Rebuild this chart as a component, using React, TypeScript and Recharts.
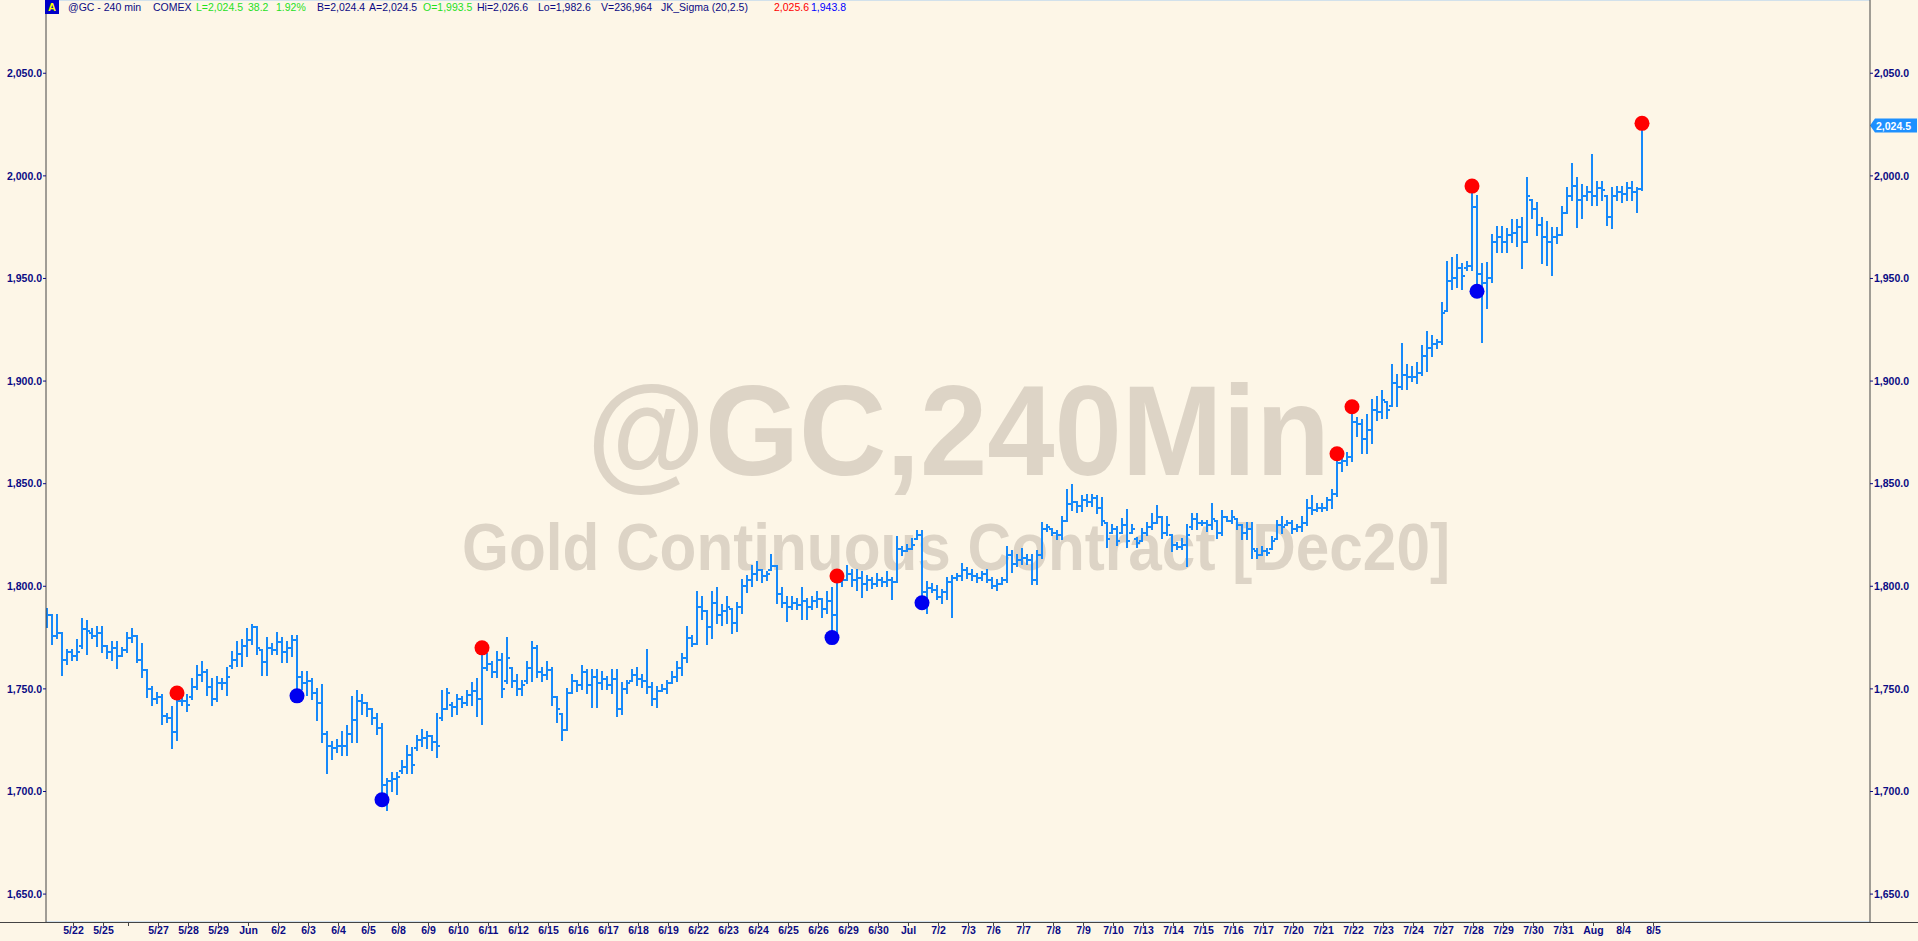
import React from "react";
import {
  ComposedChart,
  Bar,
  Scatter,
  XAxis,
  YAxis,
  CartesianGrid,
  ReferenceLine,
} from "recharts";

// 240 min bars, [open, high, low, close]
const bars: [number, number, number, number][] = [
  [1788, 1789, 1780, 1786], [1786, 1786, 1772, 1776], [1776, 1786, 1775, 1777], [1777, 1777, 1757, 1764],
  [1764, 1769, 1762, 1768], [1768, 1769, 1764, 1766], [1766, 1774, 1764, 1768], [1771, 1784, 1770, 1779],
  [1779, 1783, 1767, 1778], [1777, 1779, 1775, 1776], [1776, 1780, 1771, 1777], [1777, 1780, 1768, 1771],
  [1771, 1771, 1765, 1768], [1768, 1773, 1764, 1770], [1770, 1773, 1760, 1766], [1766, 1770, 1766, 1769],
  [1769, 1777, 1768, 1775], [1775, 1779, 1773, 1776], [1776, 1776, 1763, 1764], [1764, 1772, 1756, 1759],
  [1759, 1759, 1746, 1750], [1750, 1751, 1742, 1745], [1745, 1748, 1743, 1746], [1746, 1747, 1733, 1737],
  [1737, 1738, 1734, 1736], [1736, 1741, 1721, 1729], [1729, 1748, 1725, 1744], [1744, 1746, 1742, 1744],
  [1744, 1747, 1739, 1742], [1746, 1755, 1745, 1751], [1751, 1761, 1750, 1757], [1757, 1763, 1754, 1758],
  [1758, 1759, 1747, 1751], [1751, 1755, 1742, 1745], [1745, 1756, 1744, 1753], [1753, 1755, 1750, 1753],
  [1753, 1760, 1747, 1756], [1761, 1768, 1760, 1764], [1764, 1773, 1761, 1767], [1767, 1774, 1761, 1771],
  [1771, 1779, 1766, 1774], [1774, 1781, 1772, 1780], [1780, 1780, 1767, 1770], [1769, 1769, 1757, 1763],
  [1763, 1775, 1757, 1770], [1770, 1772, 1767, 1769], [1769, 1777, 1767, 1773], [1773, 1775, 1763, 1768],
  [1768, 1773, 1763, 1770], [1770, 1776, 1766, 1774], [1774, 1776, 1747, 1756], [1756, 1758, 1750, 1753],
  [1753, 1758, 1747, 1754], [1754, 1755, 1745, 1748], [1748, 1750, 1735, 1743], [1743, 1752, 1724, 1728],
  [1728, 1729, 1709, 1722], [1722, 1724, 1716, 1721], [1721, 1725, 1719, 1722], [1722, 1729, 1718, 1722],
  [1722, 1732, 1718, 1728], [1728, 1746, 1724, 1735], [1735, 1749, 1724, 1744], [1744, 1747, 1738, 1743],
  [1743, 1743, 1737, 1740], [1740, 1740, 1733, 1736], [1736, 1738, 1728, 1731], [1731, 1733, 1696, 1703],
  [1703, 1706, 1691, 1705], [1705, 1709, 1700, 1706], [1706, 1709, 1699, 1707], [1710, 1715, 1709, 1712],
  [1712, 1722, 1709, 1718], [1718, 1721, 1709, 1713], [1721, 1727, 1720, 1725], [1725, 1730, 1722, 1726],
  [1726, 1729, 1721, 1727], [1727, 1727, 1720, 1724], [1724, 1738, 1717, 1722], [1736, 1749, 1735, 1740],
  [1740, 1750, 1740, 1748], [1742, 1743, 1737, 1741], [1741, 1747, 1738, 1745], [1745, 1746, 1741, 1743],
  [1743, 1749, 1742, 1747], [1747, 1753, 1742, 1749], [1749, 1755, 1737, 1745], [1745, 1770, 1733, 1760],
  [1760, 1767, 1759, 1762], [1762, 1763, 1756, 1758], [1758, 1768, 1756, 1764], [1764, 1767, 1746, 1750],
  [1754, 1775, 1753, 1765], [1760, 1760, 1751, 1754], [1754, 1757, 1747, 1750], [1750, 1754, 1747, 1752],
  [1754, 1763, 1753, 1760], [1760, 1773, 1754, 1770], [1770, 1771, 1756, 1758], [1758, 1760, 1754, 1757],
  [1757, 1763, 1755, 1759], [1759, 1760, 1742, 1746], [1746, 1746, 1734, 1740], [1738, 1738, 1725, 1730],
  [1730, 1750, 1730, 1748], [1748, 1757, 1748, 1754], [1754, 1754, 1749, 1752], [1752, 1761, 1750, 1758],
  [1758, 1759, 1748, 1752], [1752, 1759, 1741, 1756], [1756, 1759, 1741, 1753], [1753, 1758, 1750, 1755],
  [1755, 1756, 1750, 1752], [1752, 1759, 1748, 1755], [1755, 1759, 1737, 1740], [1740, 1753, 1738, 1750],
  [1750, 1754, 1748, 1753], [1754, 1759, 1754, 1757], [1757, 1760, 1752, 1755], [1755, 1757, 1751, 1754],
  [1754, 1769, 1748, 1751], [1751, 1753, 1742, 1745], [1745, 1751, 1741, 1749], [1749, 1752, 1749, 1750],
  [1750, 1754, 1748, 1753], [1753, 1758, 1753, 1756], [1756, 1763, 1754, 1760], [1760, 1767, 1757, 1765],
  [1765, 1780, 1763, 1775], [1775, 1776, 1771, 1772], [1772, 1797, 1772, 1790], [1790, 1795, 1784, 1788],
  [1788, 1788, 1772, 1780], [1780, 1797, 1775, 1792], [1792, 1799, 1782, 1786], [1786, 1791, 1781, 1788],
  [1788, 1795, 1782, 1790], [1789, 1789, 1777, 1782], [1782, 1792, 1778, 1790], [1790, 1803, 1787, 1800],
  [1800, 1805, 1797, 1803], [1803, 1810, 1800, 1806], [1806, 1812, 1803, 1808], [1808, 1808, 1802, 1805],
  [1805, 1807, 1803, 1806], [1808, 1815, 1808, 1810], [1810, 1810, 1792, 1796], [1796, 1799, 1790, 1792],
  [1792, 1795, 1783, 1790], [1790, 1795, 1789, 1792], [1792, 1794, 1789, 1791], [1791, 1799, 1784, 1793],
  [1793, 1794, 1784, 1790], [1790, 1795, 1789, 1793], [1793, 1797, 1790, 1794], [1794, 1794, 1785, 1789],
  [1789, 1797, 1787, 1793], [1793, 1799, 1775, 1786], [1786, 1805, 1774, 1802], [1802, 1805, 1800, 1803],
  [1803, 1810, 1803, 1806], [1806, 1808, 1800, 1803], [1803, 1808, 1798, 1804], [1804, 1807, 1795, 1801],
  [1801, 1805, 1798, 1803], [1803, 1804, 1799, 1801], [1801, 1806, 1800, 1803], [1803, 1804, 1800, 1802],
  [1802, 1807, 1800, 1803], [1803, 1804, 1794, 1802], [1802, 1824, 1802, 1818], [1818, 1819, 1815, 1817],
  [1817, 1820, 1817, 1818], [1818, 1823, 1818, 1820], [1823, 1827, 1823, 1825], [1825, 1827, 1792, 1797],
  [1797, 1802, 1787, 1799], [1799, 1801, 1797, 1798], [1798, 1800, 1794, 1795], [1795, 1798, 1792, 1797],
  [1797, 1804, 1794, 1802], [1802, 1805, 1785, 1804], [1804, 1806, 1803, 1805], [1805, 1811, 1803, 1808],
  [1808, 1809, 1804, 1806], [1806, 1808, 1803, 1805], [1805, 1806, 1802, 1804], [1804, 1807, 1803, 1806],
  [1806, 1808, 1802, 1803], [1803, 1804, 1799, 1800], [1800, 1803, 1798, 1801], [1801, 1804, 1801, 1803],
  [1803, 1819, 1802, 1815], [1815, 1817, 1807, 1811], [1811, 1815, 1810, 1813], [1813, 1818, 1811, 1814],
  [1814, 1815, 1811, 1813], [1813, 1815, 1801, 1803], [1803, 1817, 1801, 1815], [1815, 1831, 1814, 1828],
  [1828, 1830, 1827, 1829], [1828, 1828, 1825, 1826], [1826, 1827, 1823, 1825], [1825, 1834, 1823, 1832],
  [1832, 1847, 1832, 1840], [1840, 1849.5, 1837, 1841], [1841, 1841, 1836, 1839], [1839, 1844, 1836.5, 1842],
  [1842, 1844.6, 1839, 1841], [1841, 1844.6, 1839, 1843], [1843, 1843.8, 1835.7, 1838], [1838, 1843, 1830, 1832],
  [1831, 1831, 1819, 1823], [1826, 1830, 1826, 1828], [1828, 1829, 1820, 1822], [1826, 1833, 1826, 1830],
  [1830, 1837, 1819, 1822], [1826, 1830, 1826, 1828], [1823, 1823.5, 1819, 1821], [1822, 1828, 1822, 1826],
  [1826, 1831, 1825, 1829], [1829, 1835, 1828, 1831], [1831, 1839, 1831, 1834], [1834, 1834, 1823.5, 1826],
  [1826, 1834, 1825, 1830], [1825, 1825, 1817, 1820], [1820, 1821, 1818, 1819], [1819, 1823, 1818, 1820],
  [1820, 1830, 1810, 1825], [1829, 1835, 1828, 1833], [1833, 1835, 1828, 1831], [1831, 1832, 1830, 1831],
  [1831, 1832, 1827, 1830], [1830, 1840, 1828, 1833], [1832, 1832, 1823.5, 1826], [1826, 1836.5, 1825, 1834],
  [1834, 1834, 1831.6, 1832], [1832, 1836.5, 1831, 1834], [1833, 1833, 1828, 1830], [1830, 1830, 1823, 1826],
  [1826, 1831, 1823, 1828], [1828, 1831, 1814, 1818], [1817, 1818, 1814, 1815], [1815, 1819, 1815, 1817],
  [1817, 1818, 1815, 1816], [1818, 1824, 1818, 1822], [1823, 1832, 1823, 1830], [1830, 1834, 1826, 1829],
  [1830, 1832, 1830, 1831], [1831, 1832, 1826, 1828], [1828, 1830, 1827, 1829], [1829, 1834, 1827, 1831],
  [1831, 1842, 1830, 1838], [1838, 1844, 1835, 1837], [1837, 1840, 1836.5, 1838], [1838, 1840, 1836.5, 1838],
  [1838, 1843, 1837, 1842], [1842, 1847, 1838, 1845], [1845, 1865, 1844, 1860], [1860, 1863, 1856, 1861],
  [1861, 1865, 1859, 1863], [1863, 1887, 1861, 1880], [1880, 1882, 1873, 1879], [1879, 1881, 1865, 1872],
  [1872, 1883.5, 1865, 1876], [1876, 1891, 1870, 1886], [1886, 1892, 1881, 1885], [1885, 1895, 1882, 1891],
  [1890, 1890, 1882, 1886], [1888, 1908, 1888, 1899], [1899, 1903, 1888, 1897], [1897, 1918, 1896, 1903],
  [1903, 1908, 1896, 1902], [1902, 1907, 1900, 1902], [1902, 1909, 1899, 1904], [1904, 1917, 1903, 1912],
  [1912, 1924, 1905, 1916], [1916, 1922, 1912, 1918], [1918, 1920, 1916, 1919], [1919, 1938, 1918, 1933],
  [1934, 1958, 1934, 1949], [1949, 1960, 1945, 1950], [1950, 1961.5, 1946, 1955], [1955, 1957, 1945, 1951],
  [1955, 1958, 1954, 1956], [1956, 1995, 1954, 1985], [1985, 1990, 1944, 1952], [1952, 1957, 1919, 1948],
  [1948, 1957.5, 1935.5, 1950], [1950, 1971, 1948.5, 1968], [1968, 1975, 1963, 1970], [1970, 1975, 1963, 1968],
  [1968, 1974, 1963, 1971], [1971, 1978.6, 1968, 1972], [1972, 1978.6, 1965.6, 1975], [1975, 1979.4, 1955, 1968],
  [1968, 1999, 1968, 1990], [1988, 1988.3, 1979.4, 1984], [1984, 1986.7, 1971.3, 1976], [1976, 1979.4, 1957.5, 1970],
  [1970, 1977.7, 1956.6, 1968], [1968, 1974.5, 1951.8, 1970], [1970, 1974.5, 1967.2, 1971], [1971.3, 1985, 1971.3, 1982],
  [1982, 1994, 1981.8, 1990], [1990, 2006, 1988.3, 1995], [1995, 1999, 1975, 1988], [1988, 1995.6, 1979.4, 1990],
  [1990, 1994.8, 1988.3, 1992], [1992, 2010, 1986, 1990], [1990, 1997, 1986, 1994], [1994, 1997, 1988, 1993],
  [1990, 1990, 1976, 1980], [1980, 1994, 1974.5, 1990], [1990, 1994.8, 1988.3, 1992], [1992, 1994.8, 1987.5, 1991],
  [1991, 1996.4, 1988.3, 1994], [1994, 1997, 1988, 1992], [1992, 1994, 1982.6, 1993.5], [1993.5, 2026.6, 1993, 2024.5],
];

// bar index where each session label starts
const tickBars = [
  5, 11, 16, 22, 28, 34, 40, 46, 52, 58, 64, 70, 76, 82, 88, 94, 100, 106, 112, 118, 124,
  130, 136, 142, 148, 154, 160, 166, 172, 178, 184, 189, 195, 201, 207, 213, 219, 225, 231,
  237, 243, 249, 255, 261, 267, 273, 279, 285, 291, 297, 303, 309, 315, 321,
];
const tickLabels = [
  "5/22", "5/25", "", "5/27", "5/28", "5/29", "Jun", "6/2", "6/3", "6/4", "6/5", "6/8", "6/9",
  "6/10", "6/11", "6/12", "6/15", "6/16", "6/17", "6/18", "6/19", "6/22", "6/23", "6/24", "6/25",
  "6/26", "6/29", "6/30", "Jul", "7/2", "7/3", "7/6", "7/7", "7/8", "7/9", "7/10", "7/13", "7/14",
  "7/15", "7/16", "7/17", "7/20", "7/21", "7/22", "7/23", "7/24", "7/27", "7/28", "7/29", "7/30",
  "7/31", "Aug", "8/4", "8/5",
];
const priceTicks = [1650, 1700, 1750, 1800, 1850, 1900, 1950, 2000, 2050];

// JK_Sigma (20,2.5) signals: [bar index, price]
const sigmaHigh: [number, number][] = [
  [26, 1748], [87, 1770], [158, 1805], [258, 1864.6], [261, 1887.5], [285, 1995], [319, 2025.6],
];
const sigmaLow: [number, number][] = [
  [50, 1746.6], [67, 1696], [157, 1775], [175, 1792], [286, 1943.8],
];
const lastPrice = 2024.5;

const BG = "#FDF6E7";
const BAR = "#1689FA";
const NAVY = "#0A0A84";
const TICK_SHIFT = 0.3;

const data = bars.map(([o, h, l, c], i) => ({ idx: i, o, h, l, c }));
const highDots = sigmaHigh.map(([idx, v]) => ({ idx, v }));
const lowDots = sigmaLow.map(([idx, v]) => ({ idx, v }));
const xTicks = tickBars.map((b) => b + TICK_SHIFT);

const fmt = (v: number) =>
  v.toLocaleString("en-US", { minimumFractionDigits: 1, maximumFractionDigits: 1 });

function OhlcBar(props: any) {
  const { x, y, width, height, payload } = props;
  if (x == null || y == null || !payload) return null;
  const top = Math.min(y, y + height);
  const bottom = Math.max(y, y + height);
  const { o, h, l, c } = payload;
  const span = h - l || 1;
  const py = (v: number) => Math.round(top + ((h - v) / span) * (bottom - top));
  const cx = Math.round(x + width / 2);
  return (
    <g stroke={BAR} strokeWidth={2} shapeRendering="crispEdges">
      <line x1={cx} x2={cx} y1={Math.round(top) - 1} y2={Math.round(bottom) + 1} />
      <line x1={cx - 3} x2={cx} y1={py(o)} y2={py(o)} />
      <line x1={cx} x2={cx + 3} y1={py(c)} y2={py(c)} />
    </g>
  );
}

function PriceTag(props: any) {
  const vb = props.viewBox;
  if (!vb) return null;
  const x = vb.x + vb.width;
  const y = vb.y;
  return (
    <g>
      <polygon
        points={`${x},${y} ${x + 5},${y - 7} ${x + 47},${y - 7} ${x + 47},${y + 7} ${x + 5},${y + 7}`}
        fill="#1E90FF"
      />
      <text
        x={x + 6}
        y={y + 4}
        fill="#fff"
        fontSize={10.5}
        fontWeight="bold"
        fontFamily="Liberation Sans, Arial, sans-serif"
      >
        {fmt(lastPrice)}
      </text>
    </g>
  );
}

const headerParts: { x: number; text: string; color: string }[] = [
  { x: 68, text: "@GC - 240 min", color: NAVY },
  { x: 153, text: "COMEX", color: NAVY },
  { x: 196, text: "L=2,024.5", color: "#1FE01F" },
  { x: 248, text: "38.2", color: "#1FE01F" },
  { x: 276, text: "1.92%", color: "#1FE01F" },
  { x: 317, text: "B=2,024.4", color: NAVY },
  { x: 369, text: "A=2,024.5", color: NAVY },
  { x: 423, text: "O=1,993.5", color: "#1FE01F" },
  { x: 477, text: "Hi=2,026.6", color: NAVY },
  { x: 538, text: "Lo=1,982.6", color: NAVY },
  { x: 601, text: "V=236,964", color: NAVY },
  { x: 661, text: "JK_Sigma (20,2.5)", color: NAVY },
  { x: 774, text: "2,025.6", color: "#FF0000" },
  { x: 811, text: "1,943.8", color: "#0000FF" },
];

export default function App() {
  const axisTick = {
    fill: NAVY,
    fontSize: 10.5,
    fontWeight: "bold" as const,
    fontFamily: "Liberation Sans, Arial, sans-serif",
  };
  return (
    <div
      style={{
        position: "absolute",
        left: 0,
        top: 0,
        width: 1918,
        height: 941,
        background: BG,
        overflow: "hidden",
      }}
    >
      <svg width={1918} height={941} style={{ position: "absolute", left: 0, top: 0 }}>
        <text fontWeight="bold" fontFamily="Liberation Sans, Arial, sans-serif" fill="#DDD4C6">
          <tspan x={587} y={475} fontSize={128} textLength={743} lengthAdjust="spacingAndGlyphs">
            @GC,240Min
          </tspan>
          <tspan x={462} y={570} fontSize={66} textLength={988} lengthAdjust="spacingAndGlyphs">
            Gold Continuous Contract [Dec20]
          </tspan>
        </text>
      </svg>
      <div style={{ position: "absolute", left: 0, top: 0 }}>
        <ComposedChart
          width={1918}
          height={941}
          data={data}
          margin={{ top: 0, right: 0, bottom: 0, left: 0 }}
        >
          <CartesianGrid vertical={false} stroke="#A8CCF0" />
          <XAxis
            dataKey="idx"
            type="number"
            domain={[-0.2, 364.6]}
            allowDataOverflow
            ticks={xTicks}
            interval={0}
            height={19}
            axisLine={false}
            tickLine={{ stroke: "#444" }}
            tickSize={4}
            tickMargin={1}
            tick={axisTick}
            tickFormatter={(v: number) => tickLabels[xTicks.indexOf(v)] ?? ""}
          />
          <YAxis
            yAxisId="left"
            orientation="left"
            width={46}
            type="number"
            domain={[1636.4, 2085.7]}
            allowDataOverflow
            ticks={priceTicks}
            interval={0}
            axisLine={{ stroke: "#444" }}
            tickLine={{ stroke: NAVY }}
            tickSize={3}
            tickMargin={1}
            tick={axisTick}
            tickFormatter={fmt}
          />
          <YAxis
            yAxisId="right"
            orientation="right"
            width={48}
            type="number"
            domain={[1636.4, 2085.7]}
            allowDataOverflow
            ticks={priceTicks}
            interval={0}
            axisLine={{ stroke: "#444" }}
            tickLine={{ stroke: NAVY }}
            tickSize={3}
            tickMargin={1}
            tick={axisTick}
            tickFormatter={fmt}
          />
          <Bar
            yAxisId="left"
            dataKey={(d: any) => [d.l, d.h]}
            shape={OhlcBar}
            barSize={4}
            isAnimationActive={false}
          />
          <Scatter
            yAxisId="left"
            data={highDots}
            dataKey="v"
            isAnimationActive={false}
            shape={(p: any) => <circle cx={p.cx} cy={p.cy} r={7.5} fill="#FF0000" />}
          />
          <Scatter
            yAxisId="left"
            data={lowDots}
            dataKey="v"
            isAnimationActive={false}
            shape={(p: any) => <circle cx={p.cx} cy={p.cy} r={7.5} fill="#0000F0" />}
          />
          <ReferenceLine
            yAxisId="right"
            y={lastPrice}
            stroke="none"
            ifOverflow="visible"
            label={(p: any) => <PriceTag {...p} />}
          />
        </ComposedChart>
      </div>
      <div
        style={{
          position: "absolute",
          left: 0,
          top: 922,
          width: 1918,
          height: 1,
          background: "#444",
        }}
      />
      <div
        style={{
          position: "absolute",
          left: 45,
          top: 0,
          width: 14,
          height: 14,
          background: "#0000C8",
          color: "#FFFF00",
          fontFamily: "Liberation Sans, Arial, sans-serif",
          fontSize: 11,
          fontWeight: "bold",
          lineHeight: "14px",
          textAlign: "center",
        }}
      >
        A
      </div>
      {headerParts.map((p) => (
        <span
          key={p.x}
          style={{
            position: "absolute",
            left: p.x,
            top: 0,
            lineHeight: "14px",
            fontSize: 10.5,
            fontFamily: "Liberation Sans, Arial, sans-serif",
            color: p.color,
            whiteSpace: "nowrap",
          }}
        >
          {p.text}
        </span>
      ))}
    </div>
  );
}
